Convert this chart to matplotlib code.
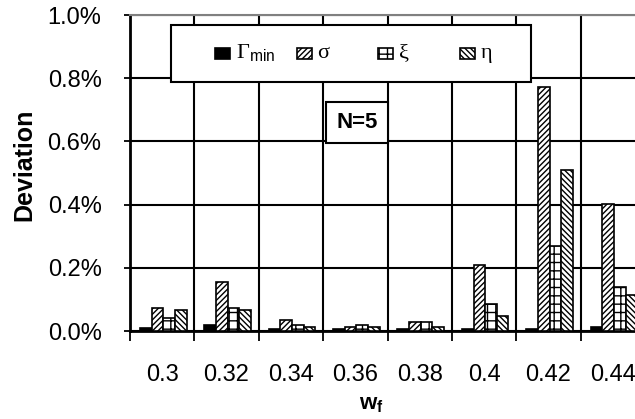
import numpy as np
import matplotlib
matplotlib.use('Agg')
import matplotlib.pyplot as plt
from matplotlib.patches import Rectangle

plt.rcParams['font.family'] = ['Liberation Sans', 'DejaVu Sans']
plt.rcParams['mathtext.fontset'] = 'custom'
plt.rcParams['mathtext.rm'] = 'Liberation Serif'
plt.rcParams['mathtext.sf'] = 'Liberation Sans'
plt.rcParams['mathtext.bf'] = 'Liberation Sans:bold'
plt.rcParams['hatch.linewidth'] = 1.0

#%% data (deviation in %)
wf = ['0.3', '0.32', '0.34', '0.36', '0.38', '0.4', '0.42', '0.44']
gamma_min = [0.011, 0.019, 0.006, 0.005, 0.005, 0.005, 0.006, 0.013]
sigma = [0.073, 0.155, 0.035, 0.012, 0.027, 0.208, 0.773, 0.403]
xi = [0.040, 0.073, 0.020, 0.020, 0.027, 0.087, 0.268, 0.140]
eta = [0.067, 0.068, 0.013, 0.013, 0.013, 0.046, 0.511, 0.114]

series = [gamma_min, sigma, xi, eta]
labels = [r'$\mathrm{\Gamma}_{\mathsf{min}}$', 'σ', 'ξ', 'η']
hatches = [None, '//////', '++', '\\\\\\\\\\\\']
fills = ['black', 'white', 'white', 'white']

#%%
fig = plt.figure(figsize=(6.35, 4.19), dpi=100)
W, H = 635., 419.
# axes runs past the right edge, as in the original (last category clipped)
ax = fig.add_axes([130/W, (H-331)/H, 515/W, 316/H])

x = np.arange(len(wf))
bw = 0.181
start = -0.345
for k, (vals, hh, fc) in enumerate(zip(series, hatches, fills)):
    ax.bar(x + start + bw*(k+0.5), vals, width=bw, color=fc, edgecolor='black',
           hatch=hh, linewidth=1.2, zorder=3)

ax.set_xlim(-0.5, len(wf)-0.5)
ax.set_ylim(0, 1.0)
yt = np.arange(0, 1.01, 0.2)
ax.set_yticks(yt)
ax.set_yticklabels(['%.1f%%' % v for v in yt])
ax.set_xticks(np.arange(-0.5, len(wf)+0.5, 1.0))
ax.set_xticklabels([])
ax.set_xticks(x, minor=True)
ax.set_xticklabels(wf, minor=True)

ax.tick_params(axis='y', direction='inout', length=9, width=1.3, labelsize=17, pad=16)
ax.tick_params(axis='x', which='major', direction='out', length=7, width=1.3)
ax.tick_params(axis='x', which='minor', length=0, labelsize=17, pad=24)

ax.grid(True, which='major', color='black', linewidth=1.5, zorder=0)
ax.set_axisbelow(True)
for s in ['left', 'bottom']:
    ax.spines[s].set_linewidth(2)
ax.spines['top'].set_color('gray')
ax.spines['top'].set_linewidth(1.5)
ax.spines['right'].set_linewidth(1.5)

ax.set_ylabel('Deviation', fontsize=18, fontweight='bold', va='center')
ax.yaxis.set_label_coords((24-130)/515., (331-165)/316.)
ax.set_xlabel(r'$\mathbf{w}_{\mathbf{f}}$', fontsize=16, va='center')
ax.xaxis.set_label_coords((371-130)/515., (331-404)/316.)

# legend: white box with the four entries
box = Rectangle((171/W, (H-82)/H), 360/W, 57/H, transform=fig.transFigure,
                facecolor='white', edgecolor='black', linewidth=1.5, zorder=10)
fig.patches.append(box)
pw, ph = 15., 11.
for k, (lab, hh, fc) in enumerate(zip(labels, hatches, fills)):
    x0 = 215 + 81.5*k
    fig.patches.append(Rectangle((x0/W, (H-53.5-ph/2)/H), pw/W, ph/H,
                                 transform=fig.transFigure, facecolor=fc,
                                 edgecolor='black', hatch=hh, linewidth=1.2, zorder=11))
    fig.text((x0+pw+6)/W, (H-53.5)/H, lab, fontsize=16, ha='left', va='center',
             family='Liberation Serif', zorder=12)

fig.text(357/W, (H-122)/H, 'N=5', fontsize=16, fontweight='bold',
         ha='center', va='center', zorder=12,
         bbox=dict(boxstyle='square,pad=0.45', facecolor='white', edgecolor='black', linewidth=1.5))

plt.savefig('out.png', dpi=100)
